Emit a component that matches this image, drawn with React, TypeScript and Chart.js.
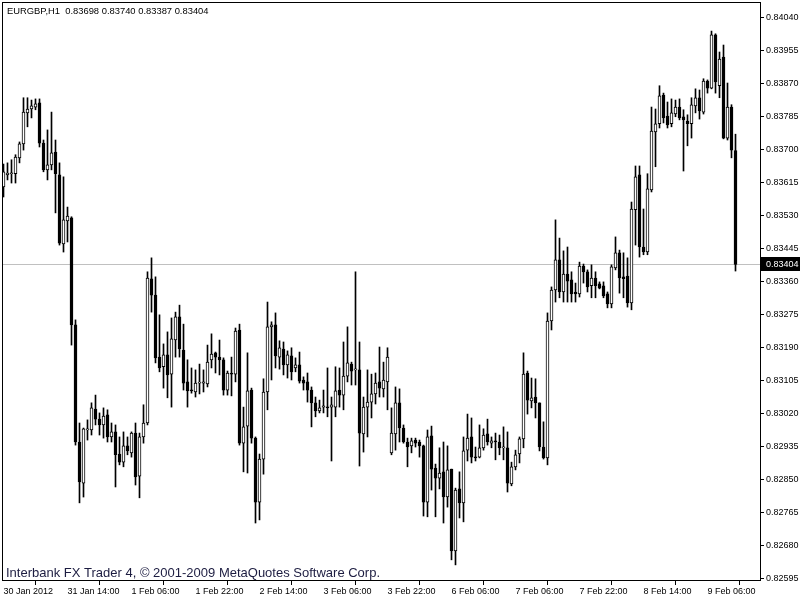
import { useEffect, useRef } from "react";
import { Chart, registerables } from "chart.js";

Chart.register(...registerables);

// EURGBP H1, one entry per bar (30 Jan 2012 22:00 .. 9 Feb 2012 13:00)
const opens = [
  0.83604, 0.83635, 0.83638, 0.83638, 0.83679, 0.83715, 0.83795, 0.83805, 0.8381, 0.83821,
  0.83717, 0.83648, 0.83661, 0.83694, 0.83635, 0.83457, 0.83516, 0.83524, 0.83248, 0.82946,
  0.8284, 0.82977, 0.82977, 0.83031, 0.83005, 0.8299, 0.83016, 0.82959, 0.82972, 0.82915,
  0.82894, 0.82936, 0.82918, 0.82969, 0.82858, 0.82959, 0.82995, 0.83367, 0.83325, 0.83165,
  0.8314, 0.83171, 0.83121, 0.83209, 0.83269, 0.83183, 0.83101, 0.8308, 0.83075, 0.83098,
  0.83098, 0.83096, 0.83158, 0.83176, 0.83165, 0.83158, 0.8308, 0.83124, 0.83121, 0.83235,
  0.82943, 0.82987, 0.8308, 0.82956, 0.82791, 0.82902, 0.83075, 0.83243, 0.83248, 0.83165,
  0.83186, 0.83145, 0.83168, 0.83137, 0.83145, 0.83106, 0.83101, 0.8308, 0.83047, 0.83026,
  0.83036, 0.83036, 0.83036, 0.83036, 0.8308, 0.83067, 0.83116, 0.83147, 0.83132, 0.83132,
  0.82967, 0.83036, 0.83049, 0.8307, 0.83101, 0.83083, 0.83101, 0.82918, 0.82967, 0.83047,
  0.82982, 0.82946, 0.82936, 0.82951, 0.82946, 0.82936, 0.82791, 0.82962, 0.82879, 0.82853,
  0.82869, 0.82804, 0.82876, 0.82665, 0.82825, 0.82789, 0.82925, 0.82959, 0.82907, 0.82907,
  0.82931, 0.82967, 0.82943, 0.82949, 0.82946, 0.82931, 0.82931, 0.82838, 0.82882, 0.82915,
  0.82954, 0.83124, 0.83052, 0.83062, 0.83047, 0.82933, 0.82905, 0.83258, 0.83338, 0.83416,
  0.83333, 0.83379, 0.83364, 0.83333, 0.83328, 0.834, 0.83385, 0.83349, 0.83369, 0.83354,
  0.83349, 0.83328, 0.83302, 0.83395, 0.83434, 0.83372, 0.83374, 0.83305, 0.83545, 0.83635,
  0.83449, 0.83436, 0.83596, 0.83746, 0.83767, 0.83841, 0.83787, 0.83767, 0.83792, 0.8381,
  0.83785, 0.83774, 0.83767, 0.83813, 0.83834, 0.83797, 0.83877, 0.83859, 0.83996, 0.83865,
  0.83939, 0.8373, 0.8381, 0.83698,
];

const highs = [
  0.83663, 0.83666, 0.83674, 0.83687, 0.8372, 0.83834, 0.83834, 0.83828, 0.83831, 0.83831,
  0.83725, 0.83751, 0.83797, 0.83725, 0.83666, 0.8363, 0.83552, 0.83527, 0.83261, 0.82995,
  0.82982, 0.83003, 0.83047, 0.83067, 0.83021, 0.83034, 0.83029, 0.82995, 0.8299, 0.82959,
  0.82972, 0.82959, 0.82972, 0.82995, 0.82969, 0.83042, 0.83385, 0.83421, 0.83372, 0.83274,
  0.83199, 0.8323, 0.83266, 0.83281, 0.83299, 0.8325, 0.83158, 0.83137, 0.83132, 0.83147,
  0.83132, 0.83196, 0.83225, 0.83178, 0.83209, 0.83163, 0.83129, 0.83165, 0.8324, 0.8325,
  0.83036, 0.83176, 0.83085, 0.82959, 0.82915, 0.83109, 0.83307, 0.83256, 0.83279, 0.83207,
  0.83204, 0.83181, 0.83189, 0.83163, 0.83178, 0.83114, 0.83124, 0.83088, 0.83062, 0.83054,
  0.8308, 0.83137, 0.83062, 0.8314, 0.83137, 0.83204, 0.83243, 0.83152, 0.83385, 0.83204,
  0.83062, 0.83132, 0.83121, 0.83124, 0.83191, 0.83152, 0.83189, 0.83034, 0.83088, 0.83083,
  0.8299, 0.82956, 0.82956, 0.82956, 0.82951, 0.82938, 0.82977, 0.82987, 0.82889, 0.82931,
  0.82946, 0.82936, 0.82876, 0.82827, 0.82869, 0.82959, 0.83018, 0.83008, 0.82933, 0.8299,
  0.8298, 0.83005, 0.82959, 0.82969, 0.82964, 0.82985, 0.82972, 0.82894, 0.82925, 0.82959,
  0.83176, 0.83129, 0.83111, 0.83109, 0.83047, 0.82998, 0.83279, 0.83346, 0.83519, 0.83472,
  0.83439, 0.83449, 0.83385, 0.83356, 0.8341, 0.83405, 0.8339, 0.83403, 0.83385, 0.83359,
  0.83359, 0.83333, 0.83403, 0.83475, 0.83441, 0.83434, 0.83421, 0.83565, 0.83658, 0.83658,
  0.83547, 0.83638, 0.8381, 0.83805, 0.83865, 0.83846, 0.83823, 0.83831, 0.83828, 0.83831,
  0.83803, 0.8379, 0.83834, 0.83857, 0.83854, 0.83883, 0.8388, 0.84006, 0.83999, 0.83952,
  0.8397, 0.83872, 0.83816, 0.8374,
];

const lows = [
  0.83578, 0.83622, 0.83614, 0.83614, 0.83666, 0.83699, 0.83759, 0.83782, 0.83803, 0.83707,
  0.83643, 0.83622, 0.83648, 0.83537, 0.83454, 0.83436, 0.83462, 0.83196, 0.82938, 0.82789,
  0.82804, 0.82951, 0.82964, 0.8299, 0.82964, 0.82956, 0.82946, 0.82946, 0.8283, 0.82887,
  0.82882, 0.82913, 0.82907, 0.82835, 0.82802, 0.82943, 0.8299, 0.83281, 0.8315, 0.83127,
  0.83085, 0.8306, 0.83036, 0.83165, 0.83165, 0.8308, 0.83036, 0.83072, 0.83062, 0.8307,
  0.83075, 0.83088, 0.83137, 0.83124, 0.83119, 0.83067, 0.83067, 0.83065, 0.83101, 0.82938,
  0.82869, 0.82866, 0.82943, 0.82737, 0.82745, 0.82863, 0.83029, 0.83106, 0.83137, 0.83134,
  0.83119, 0.83111, 0.83106, 0.83127, 0.83098, 0.8308, 0.83049, 0.82985, 0.83011, 0.83021,
  0.83021, 0.83011, 0.82897, 0.83011, 0.83036, 0.83029, 0.83101, 0.83093, 0.83093, 0.82884,
  0.8292, 0.82959, 0.83008, 0.83044, 0.83062, 0.83062, 0.83029, 0.82913, 0.82925, 0.82946,
  0.82943, 0.82882, 0.82918, 0.82933, 0.82907, 0.82755, 0.82753, 0.82822, 0.82753, 0.82825,
  0.82737, 0.82778, 0.82642, 0.82629, 0.8275, 0.8274, 0.82897, 0.82892, 0.82897, 0.82905,
  0.82925, 0.82938, 0.82931, 0.829, 0.82913, 0.829, 0.82817, 0.82833, 0.82874, 0.82892,
  0.82931, 0.83018, 0.83034, 0.83008, 0.82923, 0.82902, 0.82887, 0.83235, 0.83307, 0.83318,
  0.83307, 0.83307, 0.83307, 0.83307, 0.8332, 0.83356, 0.83333, 0.83318, 0.83318, 0.83341,
  0.83318, 0.83292, 0.83292, 0.8339, 0.8333, 0.83318, 0.83294, 0.83287, 0.83454, 0.83423,
  0.83429, 0.83429, 0.83591, 0.83656, 0.83756, 0.83769, 0.83756, 0.83759, 0.83785, 0.83777,
  0.83645, 0.8371, 0.8373, 0.83795, 0.83779, 0.83792, 0.83846, 0.83857, 0.83846, 0.83834,
  0.83728, 0.83725, 0.83679, 0.83387,
];

const closes = [
  0.83643, 0.8364, 0.8364, 0.83681, 0.83715, 0.83797, 0.83805, 0.83813, 0.83818, 0.83717,
  0.83648, 0.83661, 0.83692, 0.83638, 0.83459, 0.83519, 0.83529, 0.83248, 0.82946, 0.82843,
  0.8298, 0.8298, 0.83034, 0.83005, 0.8299, 0.83013, 0.82959, 0.82972, 0.82913, 0.82894,
  0.82936, 0.82923, 0.82969, 0.82856, 0.82959, 0.82995, 0.83369, 0.83325, 0.83163, 0.83137,
  0.83171, 0.83119, 0.83212, 0.83269, 0.83186, 0.83098, 0.83078, 0.83078, 0.83098, 0.83098,
  0.83101, 0.83152, 0.83173, 0.83165, 0.83158, 0.8308, 0.83124, 0.83121, 0.83232, 0.82943,
  0.82985, 0.83078, 0.82956, 0.82791, 0.82902, 0.83075, 0.83243, 0.83248, 0.83168, 0.83189,
  0.83145, 0.83171, 0.83127, 0.83145, 0.83103, 0.83098, 0.8308, 0.83047, 0.83026, 0.83034,
  0.83039, 0.83034, 0.83042, 0.83078, 0.83067, 0.83116, 0.8315, 0.83129, 0.83134, 0.82969,
  0.83036, 0.83049, 0.8307, 0.83098, 0.83085, 0.83106, 0.83165, 0.82969, 0.83047, 0.82982,
  0.82946, 0.82933, 0.82949, 0.82943, 0.82936, 0.82791, 0.82959, 0.82876, 0.82853, 0.82866,
  0.82804, 0.82874, 0.82665, 0.82822, 0.82789, 0.82923, 0.82956, 0.82907, 0.82905, 0.82931,
  0.82964, 0.82946, 0.82949, 0.82946, 0.82931, 0.82933, 0.8284, 0.82882, 0.82913, 0.82954,
  0.83121, 0.83054, 0.8306, 0.83047, 0.82933, 0.82905, 0.83258, 0.83338, 0.83416, 0.83333,
  0.83379, 0.83361, 0.83328, 0.83328, 0.834, 0.83385, 0.83346, 0.83369, 0.83349, 0.83343,
  0.83323, 0.83302, 0.83398, 0.83434, 0.83369, 0.83367, 0.83305, 0.83547, 0.8363, 0.83449,
  0.83436, 0.83599, 0.83748, 0.83767, 0.83839, 0.83782, 0.83764, 0.83795, 0.8381, 0.83782,
  0.83777, 0.83767, 0.83816, 0.83834, 0.838, 0.83877, 0.83859, 0.83996, 0.83875, 0.83934,
  0.8373, 0.8381, 0.83699, 0.83404,
];

// time axis: a label every 16 bars
const timeTickIndex = [0, 16, 32, 48, 64, 80, 96, 112, 128, 144, 160, 176];
const timeTickLabels = [
  "30 Jan 2012",
  "31 Jan 14:00",
  "1 Feb 06:00",
  "1 Feb 22:00",
  "2 Feb 14:00",
  "3 Feb 06:00",
  "3 Feb 22:00",
  "6 Feb 06:00",
  "7 Feb 06:00",
  "7 Feb 22:00",
  "8 Feb 14:00",
  "9 Feb 06:00",
];

const priceTicks = [
  0.8404, 0.83955, 0.8387, 0.83785, 0.837, 0.83615, 0.8353, 0.83445, 0.8336, 0.83275,
  0.8319, 0.83105, 0.8302, 0.82935, 0.8285, 0.82765, 0.8268, 0.82595,
];

const SYMBOL = "EURGBP,H1";
const WATERMARK = "Interbank FX Trader 4, \u00a9 2001-2009 MetaQuotes Software Corp.";
const FONT = "'Liberation Sans', Arial, sans-serif";

const mt4Plugin = {
  id: "mt4Decor",
  beforeDatasetsDraw(chart: any) {
    const { ctx, chartArea } = chart;
    const last = closes[closes.length - 1];
    const y = Math.round(chart.scales.y.getPixelForValue(last)) + 0.5;
    ctx.save();
    ctx.strokeStyle = "#c0c0c0";
    ctx.lineWidth = 1;
    ctx.beginPath();
    ctx.moveTo(chartArea.left, y);
    ctx.lineTo(chartArea.right, y);
    ctx.stroke();

    ctx.fillStyle = "#1c1c40";
    ctx.font = `13px ${FONT}`;
    ctx.textBaseline = "alphabetic";
    ctx.textAlign = "left";
    ctx.fillText(WATERMARK, 6, 577);
    ctx.restore();
  },
  afterDraw(chart: any) {
    const { ctx, chartArea } = chart;
    ctx.save();
    // frame
    ctx.strokeStyle = "#000";
    ctx.lineWidth = 1;
    ctx.strokeRect(
      chartArea.left + 0.5,
      chartArea.top + 0.5,
      chartArea.right - chartArea.left,
      chartArea.bottom - chartArea.top
    );

    // header
    const n = closes.length - 1;
    const header = `${SYMBOL}  ${opens[n].toFixed(5)} ${highs[n].toFixed(5)} ${lows[n].toFixed(5)} ${closes[n].toFixed(5)}`;
    ctx.fillStyle = "#000";
    ctx.font = `9.4px ${FONT}`;
    ctx.textBaseline = "middle";
    ctx.textAlign = "left";
    ctx.fillText(header, 7, 11);

    // last price marker on the price axis
    ctx.font = `9px ${FONT}`;
    const y = Math.round(chart.scales.y.getPixelForValue(closes[n]));
    ctx.fillStyle = "#000";
    ctx.fillRect(chartArea.right + 1, y - 7, 800 - chartArea.right - 1, 14);
    ctx.fillStyle = "#fff";
    ctx.fillText(closes[n].toFixed(5), chartArea.right + 6, y + 0.5);
    ctx.restore();
  },
};

function CandleChart() {
  const canvasRef = useRef<HTMLCanvasElement | null>(null);
  const chartRef = useRef<Chart | null>(null);

  useEffect(() => {
    if (!canvasRef.current) return;

    const bodies = opens.map((o, i) => ({ x: i, y: [o, closes[i]] }));
    const wicks = lows.map((l, i) => ({ x: i, y: [l, highs[i]] }));
    const bodyFill = opens.map((o, i) => (closes[i] >= o ? "#ffffff" : "#000000"));

    chartRef.current = new Chart(canvasRef.current, {
      type: "bar",
      data: {
        datasets: [
          {
            label: "body",
            data: bodies as any,
            backgroundColor: bodyFill,
            borderColor: "#000",
            borderWidth: 1,
            borderSkipped: false,
            barThickness: 3,
            minBarLength: 1,
            grouped: false,
            order: 0,
          },
          {
            label: "wick",
            data: wicks as any,
            backgroundColor: "#000",
            borderWidth: 0,
            barThickness: 1,
            grouped: false,
            order: 1,
          },
        ],
      },
      options: {
        animation: false,
        responsive: true,
        maintainAspectRatio: false,
        events: [],
        layout: { padding: { left: 2, top: 2, right: 0, bottom: 0 } },
        plugins: {
          legend: { display: false },
          tooltip: { enabled: false },
          title: { display: false },
        },
        scales: {
          x: {
            type: "linear",
            min: -0.375,
            max: 189.125,
            offset: false,
            afterBuildTicks: (scale: any) => {
              scale.ticks = timeTickIndex.map((v) => ({ value: v }));
            },
            afterFit: (scale: any) => {
              scale.height = 20;
              scale.paddingLeft = 0;
              scale.paddingRight = 0;
            },
            border: { display: false },
            grid: {
              drawOnChartArea: false,
              drawTicks: true,
              tickLength: 5,
              color: "#000",
            },
            ticks: {
              autoSkip: false,
              maxRotation: 0,
              align: "start",
              padding: 1,
              color: "#000",
              font: { family: FONT, size: 9 },
              callback: (v: any) => {
                const k = timeTickIndex.indexOf(Number(v));
                return k >= 0 ? timeTickLabels[k] : "";
              },
            },
          },
          y: {
            type: "linear",
            position: "right",
            min: 0.8259,
            max: 0.84081,
            afterBuildTicks: (scale: any) => {
              scale.ticks = priceTicks.map((v) => ({ value: v }));
            },
            afterFit: (scale: any) => {
              scale.width = 40;
              scale.paddingTop = 0;
              scale.paddingBottom = 0;
            },
            border: { display: false },
            grid: {
              drawOnChartArea: false,
              drawTicks: true,
              tickLength: 4,
              color: "#000",
            },
            ticks: {
              padding: 2,
              color: "#000",
              font: { family: FONT, size: 9 },
              callback: (v: any) => Number(v).toFixed(5),
            },
          },
        },
      },
      plugins: [mt4Plugin],
    } as any);

    return () => {
      chartRef.current?.destroy();
      chartRef.current = null;
    };
  }, []);

  return (
    <div style={{ position: "fixed", left: 0, top: 0, width: 800, height: 600, background: "#fff" }}>
      <canvas ref={canvasRef} />
    </div>
  );
}

export default function App() {
  return <CandleChart />;
}
